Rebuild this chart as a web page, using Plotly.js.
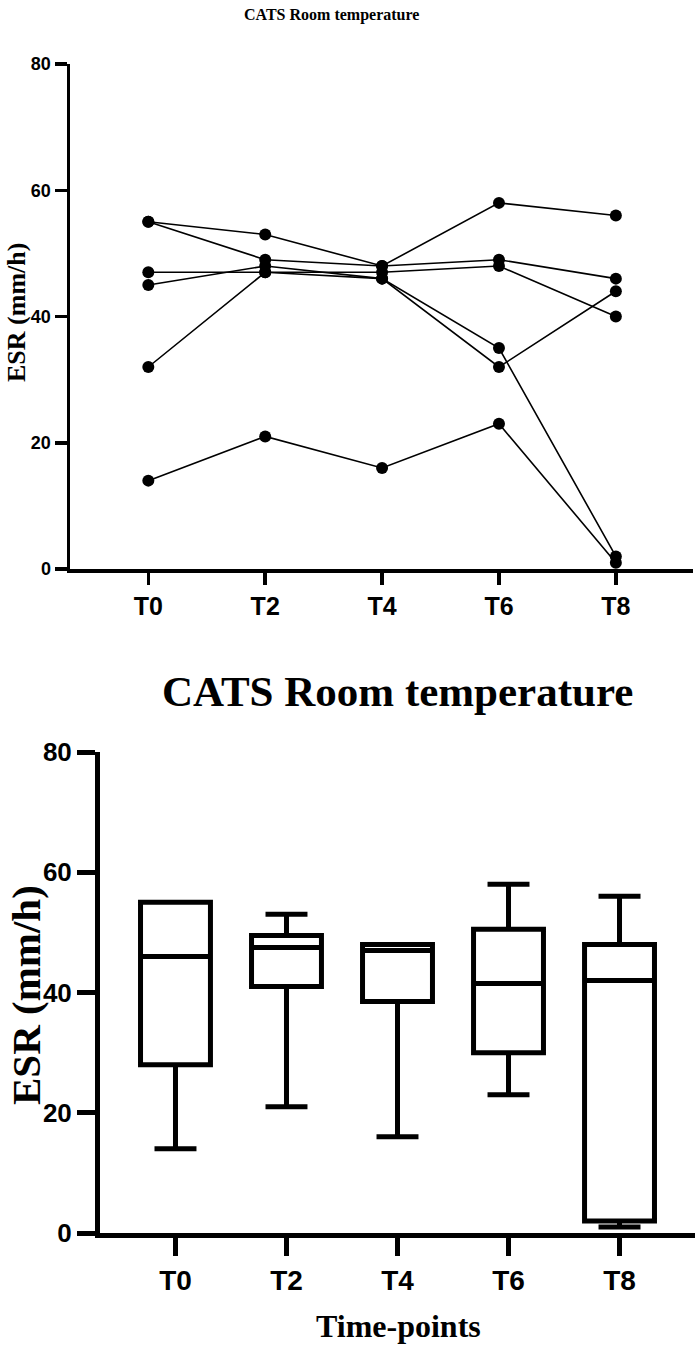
<!DOCTYPE html>
<html>
<head>
<meta charset="utf-8">
<script src="https://cdn.plot.ly/plotly-3.0.1.min.js"></script>
<style>
  html, body { margin: 0; padding: 0; background: #fff; }
  #chart { width: 696px; height: 1346px; }
</style>
</head>
<body>
<div id="chart"></div>
<script>
// time points on the x axis
var timepoints = ['T0', 'T2', 'T4', 'T6', 'T8'];

// ESR (mm/h) per animal
var cat1 = [55, 53, 48, 58, 56];
var cat2 = [55, 49, 48, 49, 46];
var cat3 = [47, 47, 47, 48, 40];
var cat4 = [45, 48, 46, 35, 2];
var cat5 = [32, 47, 46, 32, 44];
var cat6 = [14, 21, 16, 23, 1];

// box summary
var boxMin = [14, 21, 16, 23, 1];
var boxQ1 = [28, 41, 38.5, 30, 2];
var boxMedian = [46, 47.5, 47, 41.5, 42];
var boxQ3 = [55, 49.5, 48, 50.5, 48];
var boxMax = [55, 53, 48, 58, 56];

var yTicks = [0, 20, 40, 60, 80];

var sans = 'Liberation Sans, Arial, sans-serif';
var serif = 'Liberation Serif, Times New Roman, serif';

var cats = [cat1, cat2, cat3, cat4, cat5, cat6];
var data = cats.map(function (vals, i) {
    return {
        x: timepoints,
        y: vals,
        mode: 'lines+markers',
        name: 'Cat ' + (i + 1),
        xaxis: 'x',
        yaxis: 'y',
        line: { color: '#000', width: 1.6 },
        marker: { color: '#000', size: 12 },
        showlegend: false
    };
});

data.push({
    type: 'box',
    x: timepoints,
    lowerfence: boxMin,
    q1: boxQ1,
    median: boxMedian,
    q3: boxQ3,
    upperfence: boxMax,
    xaxis: 'x2',
    yaxis: 'y2',
    boxpoints: false,
    width: 0.63,
    whiskerwidth: 0.6,
    line: { color: '#000', width: 5 },
    fillcolor: 'rgba(0,0,0,0)',
    showlegend: false
});

var H = 1346, W = 696;
function px(y) { return (H - y) / H; }

function label(text, x, y, size, angle) {
    return {
        text: text, xref: 'paper', yref: 'paper',
        x: x / W, y: px(y), xanchor: 'center', yanchor: 'middle',
        textangle: angle || 0, showarrow: false,
        font: { family: serif, size: size, color: '#000', weight: 'bold' }
    };
}

var layout = {
    width: W,
    height: H,
    margin: { l: 0, r: 0, t: 0, b: 0 },
    paper_bgcolor: '#fff',
    plot_bgcolor: '#fff',
    showlegend: false,
    xaxis: {
        domain: [70 / W, 693 / W],
        anchor: 'y',
        type: 'category',
        range: [-0.67, 4.66],
        showline: true, linecolor: '#000', linewidth: 3.5,
        ticks: 'outside', ticklen: 12, tickwidth: 3.5, tickcolor: '#000',
        showgrid: false, zeroline: false,
        tickfont: { family: sans, size: 25, color: '#000', weight: 'bold' },
        automargin: false
    },
    yaxis: {
        domain: [px(569), px(64)],
        anchor: 'x',
        range: [0, 80],
        tickvals: yTicks,
        showline: true, linecolor: '#000', linewidth: 3.5,
        ticks: 'outside', ticklen: 12, tickwidth: 3.5, tickcolor: '#000',
        showgrid: false, zeroline: false,
        tickfont: { family: sans, size: 18, color: '#000', weight: 'bold' },
        automargin: false
    },
    xaxis2: {
        domain: [100 / W, 695 / W],
        anchor: 'y2',
        type: 'category',
        range: [-0.68, 4.68],
        showline: true, linecolor: '#000', linewidth: 5,
        ticks: 'outside', ticklen: 18, tickwidth: 5, tickcolor: '#000',
        showgrid: false, zeroline: false,
        tickfont: { family: sans, size: 28, color: '#000', weight: 'bold' },
        automargin: false
    },
    yaxis2: {
        domain: [px(1233), px(752)],
        anchor: 'x2',
        range: [0, 80],
        tickvals: yTicks,
        showline: true, linecolor: '#000', linewidth: 5,
        ticks: 'outside', ticklen: 18, tickwidth: 5, tickcolor: '#000',
        showgrid: false, zeroline: false,
        tickfont: { family: sans, size: 26, color: '#000', weight: 'bold' },
        automargin: false
    },
    annotations: [
        label('CATS Room temperature', 331, 15, 16),
        label('ESR (mm/h)', 17, 313, 26, -90),
        label('CATS Room temperature', 397, 692, 43),
        label('ESR (mm/h)', 26, 995, 41, -90),
        label('Time-points', 398, 1326, 32)
    ]
};

Plotly.newPlot('chart', data, layout, { displayModeBar: false, staticPlot: true });
</script>
</body>
</html>
